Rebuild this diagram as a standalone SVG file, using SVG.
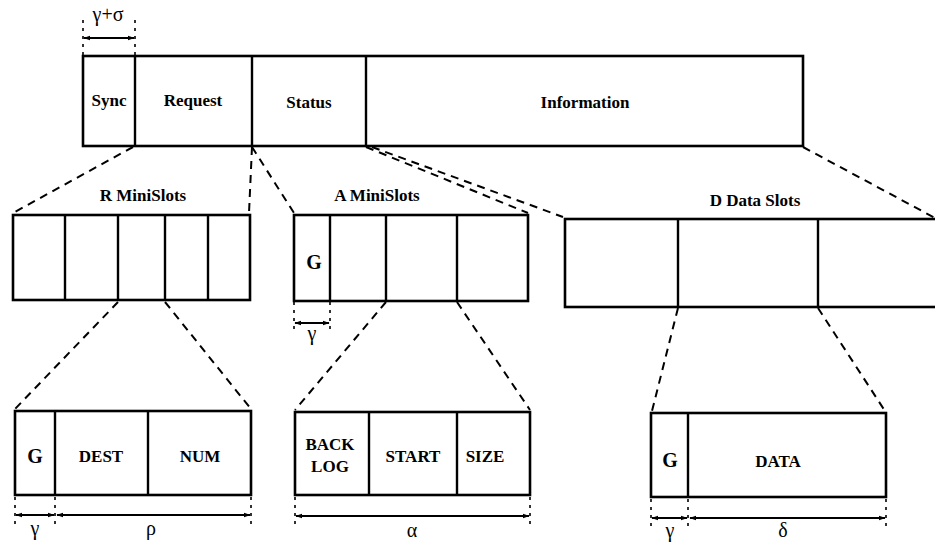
<svg xmlns="http://www.w3.org/2000/svg" width="935" height="544" viewBox="0 0 935 544">
  <defs>
    <marker id="tip" viewBox="0 0 10 10" refX="9" refY="5" markerWidth="7" markerHeight="7" orient="auto-start-reverse" markerUnits="userSpaceOnUse">
      <path d="M0,1.5 L10,5 L0,8.5 Z" fill="#000"/>
    </marker>
    <style>
      .box { fill: #fff; stroke: #000; stroke-width: 2.6; }
      .div { stroke: #000; stroke-width: 2.4; fill: none; }
      .dash { stroke: #000; stroke-width: 2; stroke-dasharray: 8 6; fill: none; }
      .ext { stroke: #000; stroke-width: 1.6; stroke-dasharray: 3 5; fill: none; }
      .dim { stroke: #000; stroke-width: 2; fill: none; }
      .lbl { font-family: "Liberation Serif", "Times New Roman", serif; font-weight: bold; font-size: 17px; text-anchor: middle; fill: #000; }
      .ttl { font-family: "Liberation Serif", "Times New Roman", serif; font-weight: bold; font-size: 17px; text-anchor: middle; fill: #000; }
      .g { font-family: "Liberation Serif", "Times New Roman", serif; font-weight: bold; font-size: 20px; text-anchor: middle; fill: #000; }
      .sym { font-family: "Liberation Serif", "Times New Roman", serif; font-size: 20px; text-anchor: middle; fill: #000; }
    </style>
  </defs>

  <!-- connectors between the frame levels -->
  <g id="connectors">
    <line class="dash" x1="133" y1="147" x2="13" y2="213"/>
    <line class="dash" x1="252" y1="147" x2="249" y2="213"/>
    <line class="dash" x1="252" y1="147" x2="294" y2="213"/>
    <line class="dash" x1="366" y1="147" x2="528" y2="213"/>
    <line class="dash" x1="372" y1="147" x2="563" y2="217"/>
    <line class="dash" x1="803" y1="147" x2="935" y2="218"/>
    <line class="dash" x1="118" y1="302" x2="15" y2="409"/>
    <line class="dash" x1="165" y1="302" x2="251" y2="409"/>
    <line class="dash" x1="386" y1="302" x2="295" y2="410"/>
    <line class="dash" x1="457" y1="302" x2="530" y2="410"/>
    <line class="dash" x1="678" y1="308" x2="652" y2="411"/>
    <line class="dash" x1="818" y1="308" x2="885" y2="411"/>
  </g>

  <!-- top frame -->
  <g id="frame">
    <rect class="box" x="83" y="56" width="720" height="90"/>
    <line class="div" x1="135" y1="56" x2="135" y2="146"/>
    <line class="div" x1="252" y1="56" x2="252" y2="146"/>
    <line class="div" x1="366" y1="56" x2="366" y2="146"/>
    <text class="lbl" x="109" y="106">Sync</text>
    <text class="lbl" x="193" y="106">Request</text>
    <text class="lbl" x="309" y="108">Status</text>
    <text class="lbl" x="585" y="108">Information</text>
    <line class="ext" x1="83" y1="20" x2="83" y2="55"/>
    <line class="ext" x1="135" y1="20" x2="135" y2="55"/>
    <line class="dim" x1="84" y1="38" x2="134" y2="38" marker-start="url(#tip)" marker-end="url(#tip)"/>
    <text class="sym" x="108" y="21">γ+σ</text>
  </g>

  <!-- request minislots -->
  <g id="r-minislots">
    <text class="ttl" x="143" y="201">R MiniSlots</text>
    <rect class="box" x="13" y="215" width="237" height="85"/>
    <line class="div" x1="65" y1="215" x2="65" y2="300"/>
    <line class="div" x1="118" y1="215" x2="118" y2="300"/>
    <line class="div" x1="165" y1="215" x2="165" y2="300"/>
    <line class="div" x1="208" y1="215" x2="208" y2="300"/>
  </g>

  <!-- acknowledgement minislots -->
  <g id="a-minislots">
    <text class="ttl" x="377" y="201">A MiniSlots</text>
    <rect class="box" x="294" y="215" width="234" height="86"/>
    <line class="div" x1="330" y1="215" x2="330" y2="301"/>
    <line class="div" x1="386" y1="215" x2="386" y2="301"/>
    <line class="div" x1="457" y1="215" x2="457" y2="301"/>
    <text class="g" x="314" y="269">G</text>
    <line class="ext" x1="294" y1="302" x2="294" y2="334"/>
    <line class="ext" x1="330" y1="302" x2="330" y2="334"/>
    <line class="dim" x1="295" y1="323" x2="329" y2="323" marker-start="url(#tip)" marker-end="url(#tip)"/>
    <text class="sym" x="312" y="340">γ</text>
  </g>

  <!-- data slots -->
  <g id="d-dataslots">
    <text class="ttl" x="755" y="206">D Data Slots</text>
    <rect class="box" x="565" y="219" width="400" height="88"/>
    <line class="div" x1="678" y1="219" x2="678" y2="307"/>
    <line class="div" x1="818" y1="219" x2="818" y2="307"/>
  </g>

  <!-- request minislot contents -->
  <g id="request-fields">
    <rect class="box" x="15" y="411" width="236" height="84"/>
    <line class="div" x1="55" y1="411" x2="55" y2="495"/>
    <line class="div" x1="148" y1="411" x2="148" y2="495"/>
    <text class="g" x="35" y="463">G</text>
    <text class="lbl" x="101" y="462">DEST</text>
    <text class="lbl" x="200" y="462">NUM</text>
    <line class="ext" x1="15" y1="497" x2="15" y2="528"/>
    <line class="ext" x1="55" y1="497" x2="55" y2="528"/>
    <line class="ext" x1="251" y1="497" x2="251" y2="528"/>
    <line class="dim" x1="16" y1="515" x2="54" y2="515" marker-start="url(#tip)" marker-end="url(#tip)"/>
    <line class="dim" x1="57" y1="515" x2="250" y2="515" marker-start="url(#tip)" marker-end="url(#tip)"/>
    <text class="sym" x="35" y="535">γ</text>
    <text class="sym" x="151" y="535">ρ</text>
  </g>

  <!-- acknowledgement minislot contents -->
  <g id="ack-fields">
    <rect class="box" x="295" y="412" width="235" height="83"/>
    <line class="div" x1="369" y1="412" x2="369" y2="495"/>
    <line class="div" x1="457" y1="412" x2="457" y2="495"/>
    <text class="lbl" x="330" y="450">BACK</text>
    <text class="lbl" x="330" y="472">LOG</text>
    <text class="lbl" x="413" y="462">START</text>
    <text class="lbl" x="485" y="462">SIZE</text>
    <line class="ext" x1="295" y1="497" x2="295" y2="528"/>
    <line class="ext" x1="530" y1="497" x2="530" y2="528"/>
    <line class="dim" x1="296" y1="516" x2="529" y2="516" marker-start="url(#tip)" marker-end="url(#tip)"/>
    <text class="sym" x="412" y="537">α</text>
  </g>

  <!-- data slot contents -->
  <g id="data-fields">
    <rect class="box" x="651" y="413" width="235" height="84"/>
    <line class="div" x1="688" y1="413" x2="688" y2="497"/>
    <text class="g" x="670" y="467">G</text>
    <text class="lbl" x="778" y="467">DATA</text>
    <line class="ext" x1="651" y1="499" x2="651" y2="530"/>
    <line class="ext" x1="688" y1="499" x2="688" y2="530"/>
    <line class="ext" x1="886" y1="499" x2="886" y2="530"/>
    <line class="dim" x1="652" y1="518" x2="687" y2="518" marker-start="url(#tip)" marker-end="url(#tip)"/>
    <line class="dim" x1="690" y1="518" x2="885" y2="518" marker-start="url(#tip)" marker-end="url(#tip)"/>
    <text class="sym" x="670" y="537">γ</text>
    <text class="sym" x="783" y="537">δ</text>
  </g>
</svg>
